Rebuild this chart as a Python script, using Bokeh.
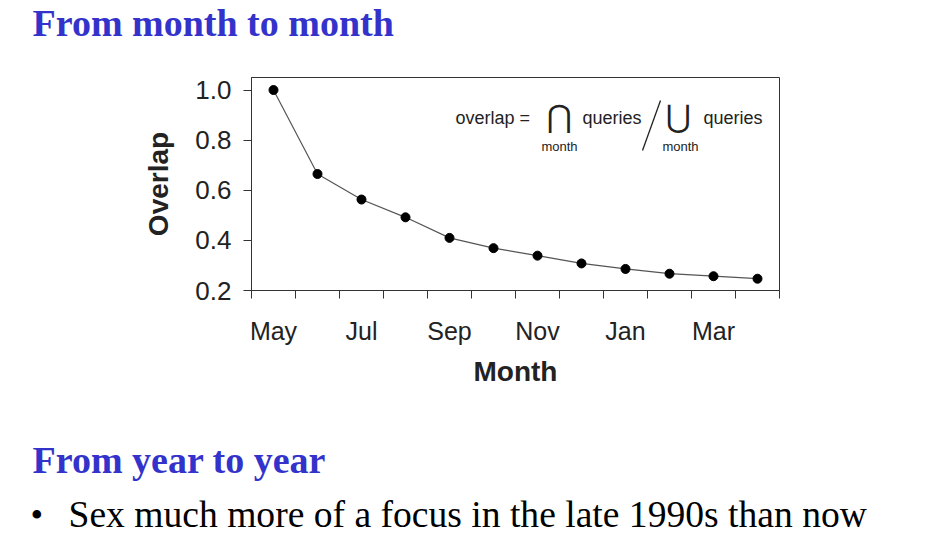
from bokeh.plotting import figure
from bokeh.models import Range1d, FixedTicker, Label, NumeralTickFormatter, Arrow
from bokeh.layouts import column
from bokeh.embed import file_html
from bokeh.resources import INLINE

# ---- data ----
months = ["May", "Jun", "Jul", "Aug", "Sep", "Oct", "Nov", "Dec", "Jan", "Feb", "Mar", "Apr"]
overlap = [1.0, 0.665, 0.563, 0.492, 0.410, 0.369, 0.339, 0.308, 0.286, 0.267, 0.257, 0.247]
y_ticks = [0.2, 0.4, 0.6, 0.8, 1.0]
x_tick_labels = ["May", "Jul", "Sep", "Nov", "Jan", "Mar"]

x = [i + 0.5 for i in range(len(months))]
label_pos = [months.index(m) + 0.5 for m in x_tick_labels]

SANS = "Liberation Sans"
SERIF = "Liberation Serif"
INK = "#222222"
BLUE = "#3333cc"
W = 930


def lab(fig, text, sx, sy, size, font=SANS, color=INK, style="normal", align="left"):
    fig.add_layout(Label(x=sx, y=sy, x_units="screen", y_units="screen", text=text,
                         text_font=font, text_font_size=size, text_color=color,
                         text_font_style=style, text_align=align,
                         text_baseline="alphabetic"))


def text_panel(h):
    f = figure(width=W, height=h, output_backend="svg", toolbar_location=None,
               x_range=Range1d(0, 1), y_range=Range1d(0, 1),
               x_axis_type=None, y_axis_type=None, min_border=0,
               frame_align=False)
    f.grid.visible = False
    f.outline_line_color = None
    f.background_fill_color = "white"
    f.border_fill_color = "white"
    return f


# ---- top heading ----
top = text_panel(60)
lab(top, "From month to month", 32, 38, "38px", font=SERIF, color=BLUE, style="bold")

# ---- chart ----
p = figure(width=W, height=340, output_backend="svg", toolbar_location=None,
           x_range=Range1d(0, 12), y_range=Range1d(0.2, 1.05),
           min_border_left=251, min_border_right=151,
           min_border_top=17, min_border_bottom=110, frame_align=False)
p.xgrid.visible = False
p.ygrid.visible = False
p.outline_line_color = "#333333"
p.outline_line_width = 1
p.background_fill_color = "white"
p.border_fill_color = "white"

xa = p.xaxis[0]
xa.ticker = FixedTicker(ticks=label_pos, minor_ticks=list(range(len(months) + 1)))
xa.major_label_overrides = {pos: t for pos, t in zip(label_pos, x_tick_labels)}
xa.major_tick_out = 0
xa.major_tick_in = 0
xa.minor_tick_out = 8
xa.minor_tick_in = 0
xa.minor_tick_line_color = "#333333"
xa.axis_line_color = "#333333"
xa.major_label_text_font = SANS
xa.major_label_text_font_size = "25px"
xa.major_label_text_color = INK
xa.major_label_standoff = 18
xa.axis_label = "Month"
xa.axis_label_text_font = SANS
xa.axis_label_text_font_style = "bold"
xa.axis_label_text_font_size = "28px"
xa.axis_label_text_color = INK
xa.axis_label_standoff = 8

ya = p.yaxis[0]
ya.ticker = FixedTicker(ticks=y_ticks, minor_ticks=[])
ya.formatter = NumeralTickFormatter(format="0.0")
ya.major_tick_out = 8
ya.major_tick_in = 0
ya.major_tick_line_color = "#333333"
ya.axis_line_color = "#333333"
ya.major_label_text_font = SANS
ya.major_label_text_font_size = "26px"
ya.major_label_text_color = INK
ya.major_label_standoff = 12
ya.axis_label = "Overlap"
ya.axis_label_text_font = SANS
ya.axis_label_text_font_style = "bold"
ya.axis_label_text_font_size = "28px"
ya.axis_label_text_color = INK
ya.axis_label_standoff = 18

p.line(x, overlap, line_color="#555555", line_width=1.2)
p.scatter(x, overlap, size=9, fill_color="black", line_color="black")

# formula (frame-relative screen coords)
lab(p, "overlap =", 204, 173, "18px")
lab(p, "\u22c2", 308, 175, "31px", font="DejaVu Sans", align="center")
lab(p, "queries", 331, 173, "18px")
lab(p, "\u22c3", 427, 175, "31px", font="DejaVu Sans", align="center")
lab(p, "queries", 452, 173, "18px")
lab(p, "month", 308, 144, "13px", align="center")
lab(p, "month", 429, 144, "13px", align="center")
p.add_layout(Arrow(end=None, x_start=409, y_start=190, x_end=391, y_end=140,
                   start_units="screen", end_units="screen",
                   line_color=INK, line_width=1.3))

# ---- bottom text ----
bottom = text_panel(156)
lab(bottom, "From year to year", 32, 97, "38px", font=SERIF, color=BLUE, style="bold")
lab(bottom, "\u2022", 30, 42, "36px", font=SERIF, color="black")
lab(bottom, "Sex much more of a focus in the late 1990s than now", 68, 42, "37.6px",
    font=SERIF, color="black")

layout = column(top, p, bottom, spacing=0)
open("out.html", "w").write(file_html(layout, INLINE))
